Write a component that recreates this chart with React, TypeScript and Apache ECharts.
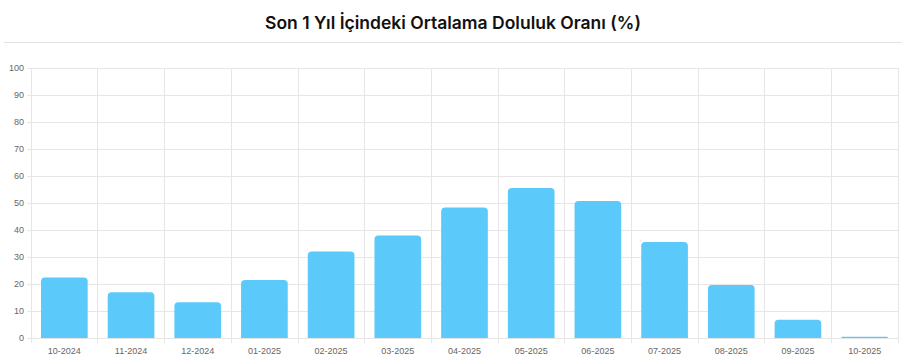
import React, { useEffect, useRef } from "react";
import * as echarts from "echarts";

const titleText = "Son 1 Yıl İçindeki Ortalama Doluluk Oranı (%)";
const categories = [
  "10-2024", "11-2024", "12-2024", "01-2025", "02-2025", "03-2025", "04-2025",
  "05-2025", "06-2025", "07-2025", "08-2025", "09-2025", "10-2025",
];
const occupancy = [22.4, 16.9, 13.2, 21.5, 32.0, 38.0, 48.3, 55.6, 50.7, 35.6, 19.6, 6.8, 0.5];
const yMin = 0;
const yMax = 100;
const yStep = 10;

export default function App() {
  const ref = useRef<HTMLDivElement>(null);
  useEffect(() => {
    if (!ref.current) return;
    const chart = echarts.init(ref.current, undefined, { renderer: "svg" });
    const gridColor = "#e6e6e6";
    chart.setOption({
      animation: false,
      backgroundColor: "#ffffff",
      title: {
        text: titleText,
        left: "center",
        top: 8,
        textStyle: {
          fontFamily: "Inter, 'Noto Sans', sans-serif",
          fontSize: 17.5,
          fontWeight: 600,
          color: "#111111",
        },
      },
      graphic: [
        {
          type: "line",
          shape: { x1: 4, y1: 42.5, x2: 902, y2: 42.5 },
          style: { stroke: "#e3e3e3", lineWidth: 1 },
          silent: true,
        },
      ],
      grid: { left: 31, right: 8, top: 68, bottom: 15, containLabel: false },
      xAxis: {
        type: "category",
        data: categories,
        boundaryGap: true,
        axisLine: { show: true, lineStyle: { color: gridColor } },
        axisTick: { show: true, alignWithLabel: false, length: 5, lineStyle: { color: gridColor } },
        splitLine: { show: true, lineStyle: { color: gridColor } },
        axisLabel: {
          color: "#666666",
          fontSize: 9,
          fontFamily: "'Liberation Sans', Arial, sans-serif",
          margin: 8,
          interval: 0,
        },
      },
      yAxis: {
        type: "value",
        min: yMin,
        max: yMax,
        interval: yStep,
        axisLine: { show: true, lineStyle: { color: gridColor } },
        axisTick: { show: true, length: 4, lineStyle: { color: gridColor } },
        splitLine: { show: true, lineStyle: { color: gridColor } },
        axisLabel: {
          color: "#666666",
          fontSize: 9,
          fontFamily: "'Liberation Sans', Arial, sans-serif",
          margin: 7,
        },
      },
      series: [
        {
          type: "bar",
          data: occupancy,
          barWidth: "70%",
          itemStyle: { color: "#5cc9fb", borderRadius: [4, 4, 0, 0] },
        },
      ],
    });
    return () => chart.dispose();
  }, []);
  return (
    <div
      ref={ref}
      style={{ position: "fixed", left: 0, top: 0, width: 906, height: 355 }}
    />
  );
}
